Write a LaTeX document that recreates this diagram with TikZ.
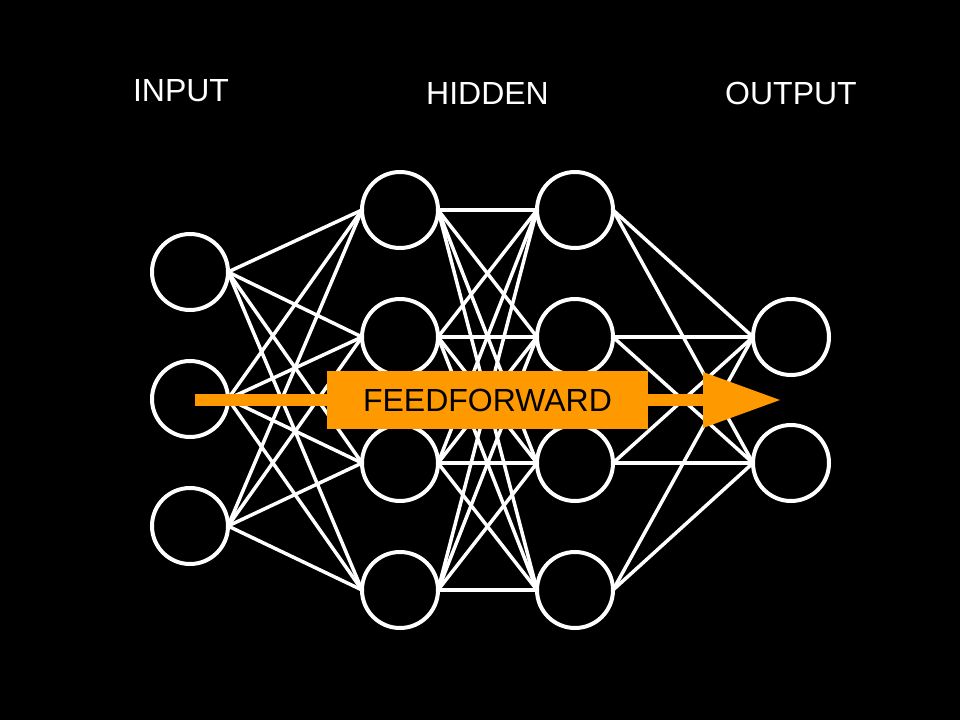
\documentclass[tikz,border=0pt]{standalone}
\usepackage{fontspec}
\setmainfont{Liberation Sans}
\definecolor{ff}{HTML}{FF9900}
\pgfdeclarelayer{bg}
\pgfdeclarelayer{edges}
\pgfsetlayers{bg,edges,main}
\begin{document}
\begin{tikzpicture}[x=1pt,y=-1pt,
  neuron/.style={circle,draw=white,line width=4pt,fill=black,minimum size=76pt,inner sep=0pt,outer sep=0pt},
  conn/.style={draw=white,line width=3.5pt},
  lbl/.style={text=white,inner sep=0pt,font=\fontsize{32}{32}\selectfont},
  ffbox/.style={fill=ff,inner sep=0pt,minimum width=321pt,minimum height=58pt,text=black,font=\fontsize{32}{32}\selectfont}]
\begin{pgfonlayer}{bg}
\fill[black] (0,0) rectangle (960,720);
\end{pgfonlayer}
\useasboundingbox (0,0) rectangle (960,720);
% neurons
\foreach \i/\y in {1/272,2/399,3/526} \node[neuron] (in\i) at (190,\y) {};
\foreach \i/\y in {1/210,2/337,3/463,4/590} {\node[neuron] (a\i) at (400,\y) {}; \node[neuron] (b\i) at (575,\y) {};}
\foreach \i/\y in {1/337,2/463} \node[neuron] (o\i) at (791,\y) {};
% connections
\begin{pgfonlayer}{edges}
\foreach \i in {1,2,3} \foreach \j in {1,2,3,4} \draw[conn] (in\i.east) -- (a\j.west);
\foreach \i in {1,2,3,4} \foreach \j in {1,2,3,4} \draw[conn] (a\i.east) -- (b\j.west);
\foreach \i in {1,2,3,4} \foreach \j in {1,2} \draw[conn] (b\i.east) -- (o\j.west);
\end{pgfonlayer}
% feedforward arrow
\coordinate (as) at (195,400);
\coordinate (ab) at (703,400);
\coordinate (at) at (780,400);
\coordinate (abt) at (703,372);
\coordinate (abb) at (703,428);
\draw[ff,line width=12pt] (as) -- (ab);
\fill[ff] (abt) -- (at) -- (abb) -- cycle;
\node[ffbox] (box) at (487.5,400) {FEEDFORWARD};
% labels
\node[lbl] (linput) at (181,91) {INPUT};
\node[lbl] (lhidden) at (487.5,93) {HIDDEN};
\node[lbl] (loutput) at (791,93) {OUTPUT};
\end{tikzpicture}
\end{document}
